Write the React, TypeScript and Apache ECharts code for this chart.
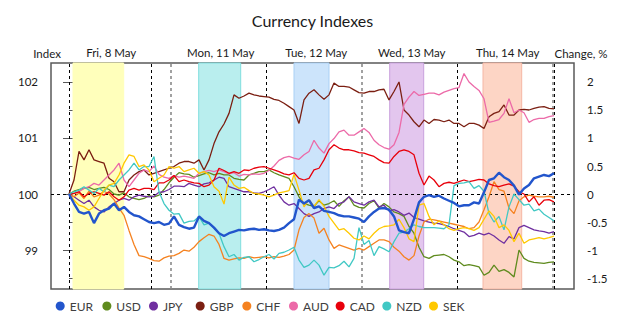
import React, { useEffect, useRef } from "react";
import * as echarts from "echarts";

const FONT = "Lato, 'Liberation Sans', sans-serif";

const currencies = ["EUR", "USD", "JPY", "GBP", "CHF", "AUD", "CAD", "NZD", "SEK"];
const colors = ["#2255cc", "#5f8b1e", "#7030a0", "#7b1f12", "#f58220", "#ec6aa8", "#e8000b", "#41c8c4", "#ffc800"];

const dayLabels = ["Fri, 8 May", "Mon, 11 May", "Tue, 12 May", "Wed, 13 May", "Thu, 14 May"];
const dayCenters = [8.44, 30.34, 49.46, 68.54, 87.74];
const dayBreaks = [0, 16.54, 39.4, 77.66, 97.06];
const sessionBreaks = [20.4, 58.54, 96.66];
const bandStarts = [0.8, 25.94, 45.0, 64.14, 82.8];
const bandEnds = [10.94, 34.34, 52.0, 70.94, 90.54];
const bandFills = ["#ffffbb", "#b9eeee", "#cce4fb", "#e3c6ee", "#fdd5c5"];
const bandEdges = ["#ffffbb", "#80dede", "#a9d0f5", "#c9a0dd", "#f5b7a5"];

const axisTitles = ["Index", "Change, %"];
const indexTicks = [99, 100, 101, 102];
const changeTicks = [-1.5, -1, -0.5, 0, 0.5, 1, 1.5, 2];

const EUR = [100.0, 99.83, 99.68, 99.65, 99.68, 99.48, 99.65, 99.71, 99.74, 99.83,
  99.71, 99.77, 99.68, 99.62, 99.6, 99.55, 99.5, 99.48, 99.5, 99.45,
  99.47, 99.6, 99.45, 99.41, 99.38, 99.4, 99.6, 99.52, 99.48, 99.4,
  99.3, 99.25, 99.3, 99.33, 99.36, 99.35, 99.37, 99.38, 99.36, 99.37,
  99.35, 99.34, 99.36, 99.4, 99.48, 99.55, 99.9, 99.83, 99.89, 99.75,
  99.78, 99.7, 99.68, 99.66, 99.62, 99.6, 99.6, 99.58, 99.56, 99.5,
  99.6, 99.68, 99.74, 99.75, 99.72, 99.6, 99.35, 99.32, 99.3, 99.55,
  99.85, 99.95, 99.98, 99.95, 99.97, 99.92, 99.88, 99.84, 99.78, 99.8,
  99.8, 99.85, 99.83, 100.03, 100.25, 100.28, 100.38, 100.3, 100.25, 100.15,
  99.99, 100.1, 100.16, 100.28, 100.31, 100.34, 100.32, 100.37];

const USD = [100.0, 100.05, 100.08, 100.1, 100.12, 100.08, 100.1, 100.12, 100.08, 100.0,
  99.98, 100.02, 99.95, 99.92, 99.9, 99.92, 99.97, 99.95, 99.98, 100.08,
  100.2, 100.3, 100.38, 100.36, 100.35, 100.3, 100.33, 100.36, 100.38, 100.34,
  100.37, 100.34, 100.34, 100.28, 100.26, 100.25, 100.34, 100.37, 100.4, 100.4,
  100.43, 100.38, 100.34, 100.31, 100.28, 100.13, 99.95, 99.83, 99.8, 99.78,
  99.88, 99.8, 99.83, 99.88, 99.78, 99.88, 99.95, 99.8, 99.76, 99.75,
  99.83, 99.88, 99.75, 99.83, 99.77, 99.68, 99.65, 99.6, 99.42, 99.3,
  99.05, 98.88, 98.85, 98.9, 98.91, 98.92, 98.88, 98.82, 98.79, 98.72,
  98.74, 98.72, 98.7, 98.55, 98.6, 98.73, 98.62, 98.65, 98.6, 98.52,
  99.0, 98.85, 98.8, 98.78, 98.77, 98.76, 98.78, 98.79];

const JPY = [100.0, 99.95, 99.89, 99.83, 99.89, 99.77, 99.71, 99.68, 99.77, 99.83,
  99.89, 99.92, 99.89, 99.95, 99.98, 99.96, 99.95, 99.96, 100.03, 100.04,
  100.08, 100.14, 100.14, 100.13, 100.19, 100.16, 100.13, 100.18, 100.2, 100.25,
  100.3, 100.28, 100.13, 100.1, 100.07, 100.04, 100.04, 100.02, 100.01, 100.04,
  100.08, 100.13, 99.98, 99.86, 99.8, 99.83, 99.74, 99.65, 99.6, 99.65,
  99.68, 99.74, 99.77, 99.74, 99.83, 99.86, 99.95, 99.86, 99.83, 99.8,
  99.86, 99.89, 99.77, 99.8, 99.7, 99.72, 99.68, 99.62, 99.66, 99.58,
  99.55, 99.52, 99.5, 99.48, 99.47, 99.45, 99.42, 99.38, 99.35, 99.32,
  99.24, 99.26, 99.3, 99.27, 99.3, 99.25, 99.18, 99.12, 99.24, 99.2,
  99.4, 99.44, 99.4, 99.36, 99.34, 99.33, 99.3, 99.33];

const GBP = [100.0, 100.25, 100.76, 100.61, 100.79, 100.61, 100.58, 100.55, 100.28, 100.22,
  100.04, 100.04, 100.25, 100.34, 100.4, 100.43, 100.34, 100.37, 100.4, 100.43,
  100.46, 100.49, 100.55, 100.58, 100.58, 100.55, 100.61, 100.43, 100.61, 100.9,
  101.11, 101.25, 101.44, 101.77, 101.71, 101.75, 101.8, 101.77, 101.75, 101.74,
  101.73, 101.69, 101.67, 101.62, 101.56, 101.5, 101.26, 101.68, 101.8, 101.86,
  101.77, 101.69, 101.77, 101.98, 101.92, 101.92, 101.91, 101.86, 101.81, 101.8,
  101.83, 101.83, 101.86, 101.87, 101.68, 101.83, 102.0, 101.5, 101.41, 101.29,
  101.2, 101.32, 101.26, 101.33, 101.32, 101.29, 101.32, 101.26, 101.26, 101.2,
  101.26, 101.26, 101.23, 101.17, 101.38, 101.44, 101.47, 101.59, 101.41, 101.41,
  101.5, 101.51, 101.5, 101.53, 101.55, 101.56, 101.53, 101.52];

const CHF = [100.0, 99.95, 100.02, 99.92, 100.05, 99.95, 99.98, 100.05, 100.0, 99.9,
  99.75, 99.62, 99.35, 99.1, 98.9, 98.88, 98.85, 98.81, 98.8, 98.86,
  98.89, 98.9, 98.94, 99.0, 98.98, 99.05, 99.15, 99.22, 99.28, 99.25,
  99.1, 98.85, 98.82, 98.84, 98.86, 98.85, 98.88, 98.86, 98.87, 98.88,
  98.86, 98.88, 98.87, 98.89, 98.92, 99.0, 99.36, 99.58, 99.65, 99.57,
  99.3, 99.39, 99.18, 99.03, 99.09, 99.06, 99.03, 99.0, 99.03, 99.0,
  99.06, 99.12, 99.18, 99.18, 99.15, 99.05, 98.98, 98.88, 98.82, 98.9,
  99.25, 99.5, 99.55, 99.54, 99.52, 99.5, 99.48, 99.46, 99.44, 99.42,
  99.38, 99.4, 99.5, 99.72, 99.95, 100.22, 100.08, 100.05, 99.75, 99.65,
  99.88, 99.95, 99.98, 99.96, 99.95, 99.95, 99.96, 99.94];

const AUD = [100.0, 100.01, 100.04, 100.1, 100.13, 100.19, 100.16, 100.25, 100.34, 100.43,
  100.55, 100.25, 100.13, 100.25, 100.37, 100.43, 100.4, 100.5, 100.35, 100.3,
  100.28, 100.33, 100.3, 100.32, 100.3, 100.28, 100.37, 100.4, 100.42, 100.4,
  100.43, 100.4, 100.36, 100.38, 100.32, 100.35, 100.34, 100.36, 100.35, 100.37,
  100.42, 100.5, 100.6, 100.65, 100.67, 100.64, 100.62, 100.7, 100.76, 100.96,
  100.82, 100.73, 100.9, 100.99, 101.11, 101.14, 101.05, 101.05, 101.11, 101.17,
  101.1, 100.96, 100.88, 100.83, 100.8, 100.88, 101.1, 101.6, 101.73, 101.83,
  101.76, 101.78, 101.8, 101.8, 101.77, 101.82, 101.85, 101.88, 101.9, 102.15,
  102.0, 101.92, 101.85, 101.7, 101.28, 101.3, 101.33, 101.44, 101.7, 101.45,
  101.5, 101.45, 101.28, 101.33, 101.35, 101.35, 101.38, 101.4];

const CAD = [100.0, 100.01, 100.04, 99.95, 100.01, 100.04, 100.01, 99.98, 100.04, 99.95,
  99.89, 99.95, 100.07, 100.1, 100.07, 100.1, 100.1, 100.08, 100.2, 100.2,
  100.25, 100.33, 100.22, 100.25, 100.22, 100.2, 100.19, 100.13, 100.16, 100.25,
  100.46, 100.42, 100.37, 100.4, 100.37, 100.43, 100.42, 100.46, 100.48, 100.49,
  100.46, 100.43, 100.4, 100.36, 100.34, 100.38, 100.28, 100.25, 100.28, 100.43,
  100.46, 100.61, 100.79, 100.88, 100.82, 100.79, 100.79, 100.77, 100.74, 100.73,
  100.7, 100.67, 100.61, 100.56, 100.55, 100.67, 100.76, 100.79, 100.76, 100.7,
  100.37, 100.16, 100.32, 100.25, 100.13, 100.19, 100.21, 100.19, 100.22, 100.25,
  100.22, 100.24, 100.26, 100.25, 100.18, 100.15, 100.13, 100.16, 100.18, 100.14,
  100.04, 100.0, 99.86, 99.95, 99.8, 99.89, 99.9, 99.86];

const NZD = [100.0, 100.04, 100.07, 100.13, 100.07, 100.01, 100.1, 100.04, 100.16, 100.13,
  100.25, 100.34, 100.43, 100.55, 100.43, 100.49, 100.49, 100.67, 100.04, 99.83,
  99.71, 99.64, 99.65, 99.48, 99.51, 99.52, 99.6, 99.45, 99.48, 99.39,
  99.3, 99.06, 98.88, 98.92, 98.82, 98.87, 98.88, 98.79, 98.83, 98.88,
  98.92, 98.84, 98.94, 98.96, 99.0, 99.05, 98.82, 98.69, 98.73, 98.82,
  98.73, 98.55, 98.69, 98.68, 98.72, 98.8, 98.7, 98.85, 99.4, 99.1,
  99.17, 98.9, 99.06, 99.02, 98.97, 99.15, 99.3, 99.32, 99.38, 99.45,
  99.42, 99.4, 99.4, 99.4, 99.39, 99.38, 99.45, 100.15, 100.19, 100.2,
  100.22, 100.1, 100.15, 100.05, 99.65, 99.5, 99.6, 99.36, 99.77, 100.0,
  99.9, 99.8, 99.82, 99.7, 99.73, 99.64, 99.58, 99.52];

const SEK = [100.0, 99.89, 99.8, 99.77, 99.71, 99.77, 99.92, 100.07, 100.16, 100.19,
  100.34, 100.55, 100.7, 100.67, 100.49, 100.52, 100.43, 100.22, 100.28, 100.34,
  100.49, 100.46, 100.49, 100.4, 100.43, 100.46, 100.37, 100.4, 100.34, 100.13,
  100.05, 99.82, 100.3, 100.16, 100.1, 100.12, 100.06, 100.01, 100.0, 99.98,
  99.95, 99.98, 100.02, 100.04, 100.06, 100.35, 100.07, 99.77, 99.9, 99.78,
  99.9, 99.78, 99.6, 99.48, 99.36, 99.38, 99.3, 99.21, 99.18, 99.25,
  99.2, 99.3, 99.38, 99.42, 99.43, 99.45, 99.55, 99.4, 99.2, 99.15,
  99.8, 99.83, 99.6, 99.45, 99.52, 99.45, 99.38, 99.35, 99.38, 99.4,
  99.38, 99.35, 99.4, 99.55, 99.7, 99.6, 99.4, 99.45, 99.35, 99.15,
  99.3, 99.12, 99.18, 99.2, 99.22, 99.2, 99.22, 99.25];

const seriesValues = [EUR, USD, JPY, GBP, CHF, AUD, CAD, NZD, SEK];

export default function App() {
  const ref = useRef<HTMLDivElement>(null);
  useEffect(() => {
    if (!ref.current) return;
    const chart = echarts.init(ref.current, undefined, { renderer: "svg" });
    const xMin = -3.6;
    const xMax = 101;
    const idxMin = 98.304;
    const idxMax = 102.339;

    const lineSeries = currencies.map((name, k) => ({
      name,
      type: "line",
      xAxisIndex: 0,
      yAxisIndex: 0,
      data: seriesValues[k].map((v, i) => [i, v]),
      showSymbol: false,
      symbol: "none",
      silent: true,
      z: name === "EUR" ? 5 : 3,
      lineStyle: { color: colors[k], width: name === "EUR" ? 2.4 : 1.3 },
      itemStyle: { color: colors[k] },
      emphasis: { disabled: true },
    }));

    const guide = {
      name: "guides",
      type: "line",
      xAxisIndex: 0,
      yAxisIndex: 0,
      data: [[0, 100]],
      symbol: "none",
      silent: true,
      z: 1,
      lineStyle: { opacity: 0 },
      markArea: {
        silent: true,
        z: 1,
        data: bandStarts.map((s, j) => [
          { xAxis: s, itemStyle: { color: bandFills[j], borderColor: bandEdges[j], borderWidth: 1 } },
          { xAxis: bandEnds[j] },
        ]),
      },
      markLine: {
        silent: true,
        symbol: "none",
        z: 2,
        label: { show: false },
        data: [
          { yAxis: 100, lineStyle: { color: "#000", type: [3, 3], width: 1 } },
          ...dayBreaks.map((v) => ({ xAxis: v, lineStyle: { color: "#000", type: [3, 3], width: 1 } })),
          ...sessionBreaks.map((v) => ({ xAxis: v, lineStyle: { color: "#8a8a8a", type: [3, 3], width: 1.6 } })),
        ],
      },
    };

    const legends = currencies.map((name, k) => ({
      data: [name],
      left: 50.7 + k * 46.66,
      top: 295,
      icon: "circle",
      itemWidth: 9,
      itemHeight: 9,
      selectedMode: false,
      textStyle: { fontSize: 12, color: "#404040", fontFamily: FONT },
    }));

    chart.setOption({
      animation: false,
      textStyle: { fontFamily: FONT },
      title: {
        text: "Currency Indexes",
        left: "center",
        top: 7,
        textStyle: { fontSize: 16, fontWeight: "normal", color: "#1a1a1a", fontFamily: FONT },
      },
      legend: legends,
      graphic: [
        {
          type: "text",
          x: 47,
          y: 53,
          silent: true,
          style: { text: axisTitles[0], fontSize: 11.5, fill: "#1a1a1a", fontFamily: FONT, align: "center", verticalAlign: "middle" },
        },
        {
          type: "text",
          x: 581,
          y: 53,
          silent: true,
          style: { text: axisTitles[1], fontSize: 11.5, fill: "#1a1a1a", fontFamily: FONT, align: "center", verticalAlign: "middle" },
        },
      ],
      grid: {
        left: 51,
        right: 51,
        top: 63,
        bottom: 26,
        show: true,
        borderColor: "#595959",
        borderWidth: 1.5,
      },
      xAxis: [
        {
          type: "value",
          min: xMin,
          max: xMax,
          axisLine: { show: false },
          axisTick: { show: false },
          axisLabel: { show: false },
          splitLine: { show: false },
        },
        {
          type: "value",
          position: "top",
          min: xMin,
          max: xMax,
          axisLine: { show: false },
          axisTick: { show: false },
          splitLine: { show: false },
          axisLabel: {
            customValues: dayCenters,
            margin: 5,
            fontSize: 11.5,
            color: "#1a1a1a",
            fontFamily: FONT,
            formatter: (v: number) => {
              const j = dayCenters.indexOf(v);
              return j >= 0 ? dayLabels[j] : "";
            },
          },
        },
      ],
      yAxis: [
        {
          type: "value",
          position: "left",
          min: idxMin,
          max: idxMax,
          axisLine: { show: false },
          axisTick: { show: true, customValues: indexTicks, length: 6, lineStyle: { color: "#595959", width: 1 } },
          axisLabel: { customValues: indexTicks, margin: 13, fontSize: 11.5, color: "#1a1a1a", fontFamily: FONT },
          splitLine: { show: false },
        },
        {
          type: "value",
          position: "right",
          min: idxMin - 100,
          max: idxMax - 100,
          axisLine: { show: false },
          axisTick: { show: true, customValues: changeTicks, length: 6, lineStyle: { color: "#595959", width: 1 } },
          axisLabel: { customValues: changeTicks, margin: 13, fontSize: 11.5, color: "#1a1a1a", fontFamily: FONT },
          splitLine: { show: false },
        },
      ],
      series: [guide, ...lineSeries],
    });
    return () => chart.dispose();
  }, []);
  return (
    <div
      ref={ref}
      style={{ position: "fixed", left: 0, top: 0, width: 625, height: 315, background: "#fff" }}
    />
  );
}
